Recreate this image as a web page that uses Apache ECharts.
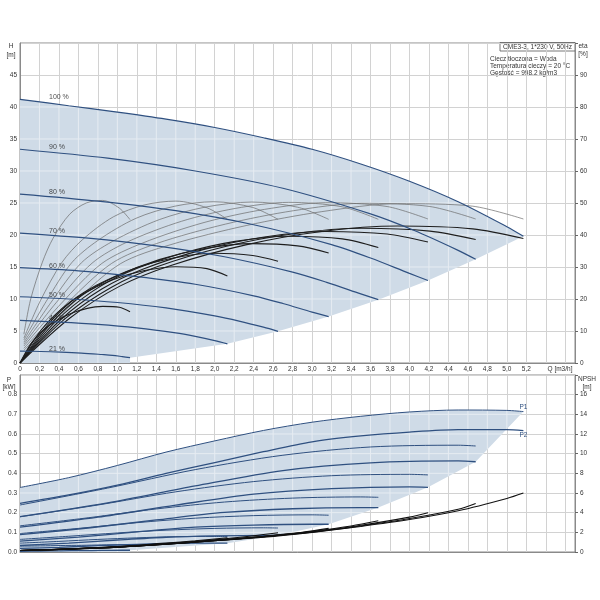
<!DOCTYPE html>
<html>
<head>
<meta charset="utf-8">
<script src="https://cdn.jsdelivr.net/npm/echarts@6/dist/echarts.min.js"></script>
<style>
  html, body { margin: 0; padding: 0; background: #fff; }
  #main { width: 600px; height: 600px; }
</style>
</head>
<body>
<div id="main"></div>
<script>
// speed labels, top to bottom
const speeds = ['100 %', '90 %', '80 %', '70 %', '60 %', '50 %', '40 %', '21 %'];

// H [m] over Q [m3/h], one curve per speed
const hCurves = [
  [[0,41.2],[0.5,40.2],[1,39.2],[1.5,38.1],[2,36.8],[2.5,35.2],[3,33.4],[3.5,31.1],[4,28.4],[4.5,25.2],[5,21.3],[5.17,19.8]],
  [[0,33.4],[0.9,32.0],[1.8,30.0],[2.7,27.3],[3.6,23.3],[4.05,20.7],[4.5,17.6],[4.68,16.2]],
  [[0,26.4],[0.8,25.3],[1.6,23.8],[2.4,21.6],[3.2,18.5],[3.6,16.4],[4.0,14.0],[4.19,12.9]],
  [[0,20.3],[0.7,19.5],[1.4,18.3],[2.1,16.6],[2.8,14.2],[3.15,12.6],[3.5,10.8],[3.68,9.9]],
  [[0,14.9],[0.6,14.4],[1.2,13.5],[1.8,12.3],[2.4,10.5],[2.7,9.3],[3.0,7.95],[3.17,7.25]],
  [[0,10.35],[0.5,10.0],[1.0,9.45],[1.5,8.6],[2.0,7.35],[2.25,6.55],[2.5,5.6],[2.65,4.95]],
  [[0,6.65],[0.4,6.4],[0.8,6.05],[1.2,5.5],[1.6,4.7],[1.8,4.15],[2.0,3.5],[2.13,3.0]],
  [[0,1.87],[0.21,1.8],[0.42,1.7],[0.63,1.55],[0.84,1.33],[0.95,1.2],[1.05,1.0],[1.13,0.83]]
];

// eta pump [%] (thin grey)
const etaCurves = [
  [[0.04,4],[0.52,18],[1.03,31],[1.55,37],[2.33,43],[3.10,47.3],[3.88,49.8],[4.65,49],[5.17,45]],
  [[0.04,4.6],[0.47,18.3],[0.94,31.1],[1.40,37.3],[2.11,43.4],[2.81,47.6],[3.51,49.9],[4.21,48.9],[4.68,45]],
  [[0.04,5.3],[0.42,18.5],[0.84,31.1],[1.26,37.5],[1.89,43.9],[2.51,48.0],[3.14,50.1],[3.77,48.9],[4.19,45]],
  [[0.04,5.9],[0.37,18.8],[0.74,31.2],[1.10,37.8],[1.66,44.3],[2.21,48.3],[2.76,50.2],[3.31,48.8],[3.68,44.9]],
  [[0.04,6.5],[0.32,19.0],[0.63,31.3],[0.95,38.0],[1.43,44.8],[1.90,48.7],[2.38,50.3],[2.85,48.7],[3.17,44.9]],
  [[0.04,7.2],[0.27,19.3],[0.53,31.3],[0.80,38.3],[1.19,45.2],[1.59,49.0],[1.99,50.4],[2.39,48.6],[2.65,44.9]],
  [[0.04,7.8],[0.21,19.5],[0.43,31.4],[0.64,38.5],[0.96,45.7],[1.28,49.4],[1.60,50.6],[1.92,48.5],[2.13,44.9]],
  [[0.04,9],[0.11,20],[0.23,31.5],[0.34,39],[0.51,46.5],[0.68,50],[0.85,50.8],[1.02,48.4],[1.13,44.8]]
];

// eta total [%] (thick black)
const etaTotalCurves = [
  [[0,0],[0.52,14.2],[1.03,24.1],[1.55,30.5],[2.33,37.0],[3.10,41.1],[3.88,42.8],[4.65,41.9],[5.17,38.9]],
  [[0,0],[0.47,14.0],[0.94,23.7],[1.40,30.0],[2.11,36.4],[2.81,40.4],[3.51,42.1],[4.21,41.2],[4.68,38.6]],
  [[0,0],[0.42,13.6],[0.84,23.1],[1.26,29.3],[1.89,35.5],[2.51,39.4],[3.14,41.1],[3.77,40.3],[4.19,37.8]],
  [[0,0],[0.37,13.1],[0.74,22.3],[1.10,28.3],[1.66,34.2],[2.21,38.0],[2.76,39.6],[3.31,38.8],[3.68,36.1]],
  [[0,0],[0.32,12.4],[0.63,21.0],[0.95,26.6],[1.43,32.3],[1.90,35.8],[2.38,37.3],[2.85,36.6],[3.17,34.4]],
  [[0,0],[0.27,11.4],[0.53,19.3],[0.80,24.5],[1.19,29.7],[1.59,32.9],[1.99,34.3],[2.39,33.6],[2.65,31.8]],
  [[0,0],[0.21,10.0],[0.43,17.0],[0.64,21.5],[0.96,26.1],[1.28,28.9],[1.60,30.1],[1.92,29.5],[2.13,27.2]],
  [[0,0],[0.11,5.9],[0.23,10.0],[0.34,12.6],[0.51,15.3],[0.68,17.0],[0.85,17.7],[1.02,17.4],[1.13,16.0]]
];

// P1 [kW]
const p1Curves = [
  [[0,0.328],[0.5,0.378],[1,0.44],[1.5,0.508],[2,0.565],[2.5,0.618],[3,0.66],[3.5,0.69],[4,0.712],[4.5,0.722],[5,0.72],[5.17,0.714]],
  [[0,0.239],[0.9,0.325],[1.8,0.419],[2.7,0.492],[3.6,0.534],[4.5,0.543],[4.68,0.539]],
  [[0,0.179],[0.8,0.239],[1.6,0.306],[2.4,0.358],[3.2,0.388],[4.0,0.395],[4.19,0.392]],
  [[0,0.133],[0.7,0.174],[1.4,0.219],[2.1,0.254],[2.8,0.274],[3.5,0.280],[3.68,0.278]],
  [[0,0.094],[0.6,0.120],[1.2,0.149],[1.8,0.172],[2.4,0.185],[3.0,0.189],[3.17,0.187]],
  [[0,0.064],[0.5,0.080],[1.0,0.097],[1.5,0.111],[2.0,0.120],[2.5,0.123],[2.65,0.122]],
  [[0,0.045],[0.4,0.054],[0.8,0.064],[1.2,0.072],[1.6,0.078],[2.0,0.079],[2.13,0.079]],
  [[0,0.030],[0.21,0.031],[0.42,0.033],[0.63,0.034],[0.84,0.036],[1.05,0.037],[1.13,0.037]]
];

// P2 [kW]
const p2Curves = [
  [[0,0.247],[0.5,0.29],[1,0.34],[1.5,0.40],[2,0.455],[2.5,0.51],[3,0.56],[3.5,0.59],[4,0.61],[4.5,0.622],[5,0.622],[5.17,0.617]],
  [[0,0.180],[0.9,0.250],[1.8,0.336],[2.7,0.414],[3.6,0.453],[4.5,0.463],[4.68,0.459]],
  [[0,0.126],[0.8,0.177],[1.6,0.238],[2.4,0.294],[3.2,0.322],[4.0,0.331],[4.19,0.329]],
  [[0,0.088],[0.7,0.122],[1.4,0.163],[2.1,0.201],[2.8,0.220],[3.5,0.226],[3.68,0.226]],
  [[0,0.055],[0.6,0.076],[1.2,0.102],[1.8,0.126],[2.4,0.137],[3.0,0.141],[3.17,0.141]],
  [[0,0.033],[0.5,0.045],[1.0,0.061],[1.5,0.075],[2.0,0.082],[2.5,0.085],[2.65,0.085]],
  [[0,0.018],[0.4,0.024],[0.8,0.032],[1.2,0.039],[1.6,0.044],[2.0,0.045],[2.13,0.045]],
  [[0,0.003],[0.21,0.005],[0.42,0.006],[0.63,0.007],[0.84,0.008],[1.05,0.009],[1.13,0.009]]
];

// NPSH [m]
const npshCurves = [
  [[0,0.15],[0.5,0.3],[1,0.5],[1.5,0.8],[2,1.15],[2.5,1.5],[3,2.0],[3.5,2.6],[4,3.3],[4.5,4.2],[5,5.45],[5.17,6.0]],
  [[0,0.15],[1,0.5],[2,1.15],[3,2.02],[3.5,2.65],[4,3.4],[4.5,4.35],[4.68,4.94]],
  [[0,0.15],[1,0.5],[2,1.16],[3,2.05],[3.5,2.72],[4,3.55],[4.19,4.0]],
  [[0,0.15],[1,0.5],[2,1.17],[2.5,1.55],[3,2.1],[3.4,2.65],[3.68,3.17]],
  [[0,0.15],[1,0.5],[1.5,0.82],[2,1.2],[2.5,1.6],[2.9,2.0],[3.17,2.4]],
  [[0,0.15],[0.5,0.3],[1,0.52],[1.5,0.85],[2,1.25],[2.4,1.65],[2.65,1.95]],
  [[0,0.15],[0.5,0.31],[1,0.55],[1.5,0.9],[1.8,1.15],[2.13,1.45]],
  [[0,0.15],[0.3,0.22],[0.6,0.33],[0.9,0.48],[1.13,0.62]]
];

const infoTitle = 'CME3-3, 1*230 V, 50Hz';
const infoLines = ['Ciecz tłoczona = Woda', 'Temperatura cieczy = 20 °C', 'Gęstość = 998.2 kg/m3'];

const FONT = 'Liberation Sans, Arial, sans-serif';
const BLUE = '#2f5080';
const SHADE = '#cfdbe7';
const Q_MAX = 5.7, Q_STEP = 0.2;
const last = c => c[c.length - 1];

// shaded working areas, built from the curve ends
const topShade = hCurves[0]
  .concat(hCurves.slice(1).map(last))
  .concat([[last(last(hCurves))[0], 0], [0, 0]]);
const bottomShade = p1Curves[0]
  .concat(p2Curves.slice(1).map(last))
  .concat([[last(last(p2Curves))[0], 0], [0, 0]]);

function line(data, xi, yi, color, width) {
  return {
    type: 'line', data, xAxisIndex: xi, yAxisIndex: yi,
    smooth: 0.3, symbol: 'none', silent: true,
    lineStyle: { color, width }
  };
}

// filled area with light grid lines clipped to it
function area(points, xi, yi, yMax, yStep) {
  return {
    type: 'custom', xAxisIndex: xi, yAxisIndex: yi, silent: true,
    data: [[0, 0]],
    renderItem: (params, api) => {
      const pts = points.map(p => api.coord(p));
      const grid = [];
      const seg = (a, b) => grid.push({
        type: 'line', shape: { x1: a[0], y1: a[1], x2: b[0], y2: b[1] },
        style: { stroke: '#e6ecf2', lineWidth: 1 }
      });
      for (let k = 1; k * Q_STEP < Q_MAX - 1e-9; k++) seg(api.coord([k * Q_STEP, 0]), api.coord([k * Q_STEP, yMax]));
      for (let k = 1; k * yStep < yMax - 1e-9; k++) seg(api.coord([0, k * yStep]), api.coord([Q_MAX, k * yStep]));
      return {
        type: 'group',
        children: [
          { type: 'polygon', shape: { points: pts }, style: { fill: SHADE } },
          { type: 'group', clipPath: { type: 'polygon', shape: { points: pts } }, children: grid }
        ]
      };
    }
  };
}

const qFmt = v => v === 0 ? '0' : (v > 5.3 ? '' : v.toFixed(1).replace('.', ','));
const labelStyle = { fontSize: 6.5, color: '#333', fontFamily: FONT };
const splitLine = { show: true, lineStyle: { color: '#d2d2d2', width: 1 } };

function xAxis(gi, showLabels) {
  return {
    type: 'value', gridIndex: gi, min: 0, max: Q_MAX, interval: Q_STEP,
    axisLine: { show: true, lineStyle: { color: '#8a8a8a' } },
    axisTick: { show: false },
    axisLabel: Object.assign({ show: showLabels, margin: 3, formatter: qFmt }, labelStyle),
    splitLine
  };
}

function yAxis(gi, pos, max, step, fmt, tick) {
  return {
    type: 'value', gridIndex: gi, position: pos, min: 0, max, interval: step,
    axisLine: { show: true, lineStyle: { color: '#8a8a8a' } },
    axisTick: { show: tick, length: 3, lineStyle: { color: '#666' } },
    axisLabel: Object.assign({ margin: tick ? 5 : 3, formatter: v => v >= max - 1e-9 ? '' : fmt(v) }, labelStyle),
    splitLine: pos === 'left' ? splitLine : { show: false }
  };
}

const series = [area(topShade, 0, 0, 50, 5), area(bottomShade, 1, 2, 0.9, 0.1)];
etaCurves.forEach(c => series.push(line(c, 0, 1, '#6a6a6a', 0.7)));
etaTotalCurves.forEach(c => series.push(line(c, 0, 1, '#1e1e1e', 1.1)));
hCurves.forEach(c => series.push(line(c, 0, 0, BLUE, 1.2)));
p2Curves.forEach((c, i) => {
  const s = line(c, 1, 2, BLUE, 1.3);
  if (i === 0) s.markPoint = { symbolSize: 0, silent: true, data: [{ coord: last(c) }],
    label: Object.assign({ show: true, position: 'bottom', distance: 1, formatter: 'P2' }, labelStyle, { color: BLUE }) };
  series.push(s);
});
p1Curves.forEach((c, i) => {
  const s = line(c, 1, 2, BLUE, 1.0);
  if (i === 0) s.markPoint = { symbolSize: 0, silent: true, data: [{ coord: last(c) }],
    label: Object.assign({ show: true, position: 'top', distance: 1, formatter: 'P1' }, labelStyle, { color: BLUE }) };
  series.push(s);
});
npshCurves.forEach(c => series.push(line(c, 1, 3, '#111', 1.1)));

// speed labels next to the start of each H curve
series.push({
  type: 'scatter', xAxisIndex: 0, yAxisIndex: 0, symbolSize: 0, silent: true,
  data: hCurves.map(c => c[0]),
  label: {
    show: true, position: 'right', distance: 0, offset: [29, -2],
    formatter: p => speeds[p.dataIndex], fontSize: 7, color: '#222', fontFamily: FONT
  }
});

const txt = (x, y, text, align) => ({
  type: 'text', x, y, silent: true,
  style: { text, font: '6.5px ' + FONT, fill: '#333', align: align || 'center', verticalAlign: 'middle' }
});

const chart = echarts.init(document.getElementById('main'));
chart.setOption({
  animation: false,
  grid: [
    { left: 20, right: 25, top: 43, height: 320, show: true, borderColor: '#8a8a8a', borderWidth: 1 },
    { left: 20, right: 25, top: 375, height: 177, show: true, borderColor: '#8a8a8a', borderWidth: 1 }
  ],
  xAxis: [xAxis(0, true), xAxis(1, false)],
  yAxis: [
    yAxis(0, 'left', 50, 5, v => String(v), false),
    yAxis(0, 'right', 100, 10, v => String(v), true),
    yAxis(1, 'left', 0.9, 0.1, v => v.toFixed(1), false),
    yAxis(1, 'right', 18, 2, v => String(v), true)
  ],
  series,
  graphic: [
    txt(11, 46, 'H'), txt(11, 55, '[m]'),
    txt(583, 46, 'eta'), txt(583, 54.5, '[%]'),
    txt(9, 380, 'P'), txt(9, 387.5, '[kW]'),
    txt(587, 379.5, 'NPSH'), txt(587, 387, '[m]'),
    txt(560, 369.5, 'Q [m3/h]'),
    { type: 'rect', silent: true, shape: { x: 500, y: 42.5, width: 75, height: 8.5 },
      style: { fill: '#fff', stroke: '#555', lineWidth: 0.8 } },
    txt(537.5, 46.8, infoTitle),
    txt(490, 59.5, infoLines[0], 'left'),
    txt(490, 66.7, infoLines[1], 'left'),
    txt(490, 73.5, infoLines[2], 'left')
  ]
});
</script>
</body>
</html>
